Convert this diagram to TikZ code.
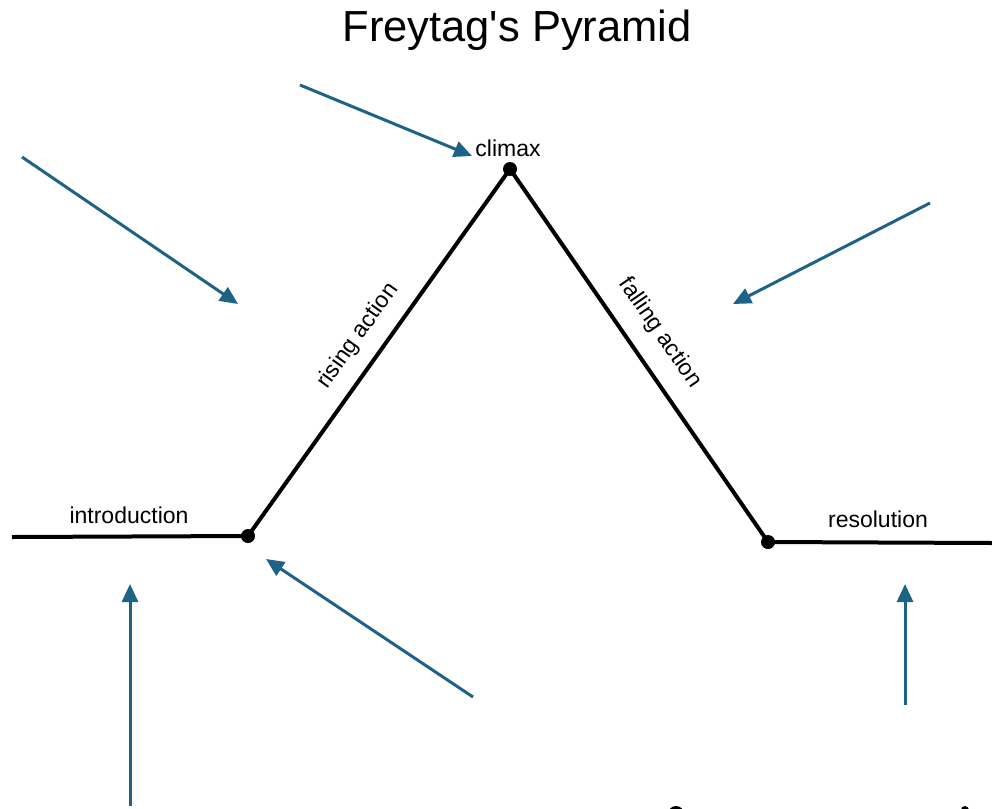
\documentclass[tikz,border=0pt]{standalone}
\usepackage{fontspec}
\setmainfont{Liberation Sans}
\usetikzlibrary{arrows.meta}
\definecolor{arrowblue}{RGB}{30,98,133}
\begin{document}
\begin{tikzpicture}[x=1pt,y=-1pt,
  plotline/.style={line width=4pt,black},
  dotnode/.style={circle,fill=black,inner sep=0pt,minimum size=14pt},
  pointer/.style={line width=3pt,arrowblue,-{Triangle[length=18pt,width=16pt]}},
  lbl/.style={font=\fontsize{23}{26}\selectfont,inner sep=0pt}]
\useasboundingbox (0,0) rectangle (992,808);
\clip (0,0) rectangle (992,808);
\node[font=\fontsize{43.5}{48}\selectfont,inner sep=0pt] (title) at (517,30) {Freytag\textquotesingle s Pyramid};
% plot points
\coordinate (start) at (12,537);
\coordinate (endr) at (992,543);
\node[dotnode] (intro) at (248,536) {};
\node[dotnode] (climax) at (510,169) {};
\node[dotnode] (resol) at (768,542) {};
\draw[plotline] (start) -- (intro.center) -- (climax.center) -- (resol.center) -- (endr);
% labels
\node[lbl] (lclimax) at (508,148) {climax};
\node[lbl] (lintro) at (129,515) {introduction};
\node[lbl] (lresol) at (878,519) {resolution};
\node[lbl,rotate=54.5] (lrise) at (358,336) {rising action};
\node[lbl,rotate=-55.3] (lfall) at (660,333) {falling action};
% arrows
\coordinate (a1s) at (300,85);   \coordinate (a1e) at (472,156);
\coordinate (a2s) at (22,157);   \coordinate (a2e) at (238,304);
\coordinate (a3s) at (930,203);  \coordinate (a3e) at (733,304);
\coordinate (a4s) at (473,697);  \coordinate (a4e) at (266,559);
\coordinate (a5s) at (130,806);  \coordinate (a5e) at (130,584);
\coordinate (a6s) at (905,705);  \coordinate (a6e) at (905,584);
\draw[pointer] (a1s) -- (a1e);
\draw[pointer] (a2s) -- (a2e);
\draw[pointer] (a3s) -- (a3e);
\draw[pointer] (a4s) -- (a4e);
\draw[pointer] (a5s) -- (a5e);
\draw[pointer] (a6s) -- (a6e);
% partially visible dots at the bottom edge
\node[dotnode,minimum size=16pt] (cut1) at (676,814) {};
\node[dotnode,minimum size=8pt] (cut2) at (965,810) {};
\end{tikzpicture}
\end{document}
